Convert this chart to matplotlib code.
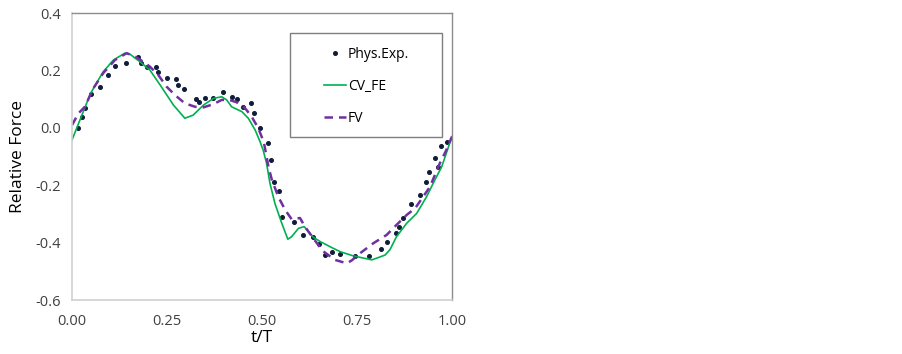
import matplotlib
matplotlib.use("Agg")
import matplotlib.pyplot as plt
from matplotlib.patches import Rectangle

# Phys.Exp. measured points
exp_t = [0.017, 0.026, 0.034, 0.049, 0.074, 0.096, 0.112, 0.142, 0.174, 0.182,
         0.197, 0.220, 0.227, 0.249, 0.273, 0.280, 0.295, 0.326, 0.335, 0.350,
         0.372, 0.397, 0.420, 0.433, 0.449, 0.472, 0.479, 0.494, 0.517, 0.525,
         0.532, 0.546, 0.553, 0.583, 0.607, 0.635, 0.651, 0.666, 0.683, 0.705,
         0.745, 0.782, 0.813, 0.830, 0.852, 0.861, 0.870, 0.893, 0.916, 0.931,
         0.939, 0.955, 0.963, 0.970, 0.987]
exp_f = [0.000, 0.038, 0.069, 0.119, 0.144, 0.185, 0.216, 0.226, 0.246, 0.226,
         0.211, 0.211, 0.194, 0.174, 0.171, 0.150, 0.135, 0.100, 0.090, 0.105,
         0.105, 0.124, 0.109, 0.101, 0.074, 0.086, 0.051, -0.001, -0.051, -0.111,
         -0.188, -0.219, -0.309, -0.329, -0.373, -0.380, -0.405, -0.443, -0.434, -0.440,
         -0.445, -0.445, -0.422, -0.397, -0.367, -0.346, -0.313, -0.266, -0.235, -0.189,
         -0.155, -0.104, -0.135, -0.062, -0.049]

# CV_FE solution
cvfe_t = [0.000, 0.021, 0.049, 0.082, 0.109, 0.139, 0.153, 0.179, 0.205, 0.232,
          0.267, 0.297, 0.319, 0.346, 0.372, 0.394, 0.407, 0.420, 0.447, 0.464,
          0.482, 0.495, 0.503, 0.512, 0.521, 0.534, 0.552, 0.568, 0.578, 0.596,
          0.611, 0.626, 0.635, 0.653, 0.679, 0.705, 0.740, 0.789, 0.806, 0.824,
          0.837, 0.854, 0.881, 0.907, 0.933, 0.955, 0.973, 0.982, 1.000]
cvfe_f = [-0.042, 0.028, 0.121, 0.196, 0.237, 0.261, 0.257, 0.231, 0.202, 0.150,
          0.080, 0.034, 0.045, 0.080, 0.103, 0.109, 0.098, 0.074, 0.057, 0.034,
          -0.007, -0.048, -0.077, -0.123, -0.193, -0.263, -0.332, -0.388, -0.379, -0.350,
          -0.344, -0.367, -0.381, -0.396, -0.414, -0.431, -0.446, -0.460, -0.452, -0.443,
          -0.424, -0.379, -0.332, -0.298, -0.240, -0.181, -0.135, -0.100, -0.030]

# FV solution
fv_t = [0.000, 0.017, 0.034, 0.056, 0.082, 0.113, 0.144, 0.166, 0.188, 0.205,
        0.227, 0.249, 0.271, 0.297, 0.324, 0.346, 0.372, 0.394, 0.416, 0.433,
        0.455, 0.473, 0.490, 0.505, 0.517, 0.526, 0.543, 0.561, 0.578, 0.600,
        0.613, 0.635, 0.661, 0.692, 0.723, 0.736, 0.758, 0.793, 0.828, 0.854,
        0.881, 0.903, 0.924, 0.942, 0.968, 0.984, 1.000]
fv_f = [0.010, 0.051, 0.074, 0.138, 0.191, 0.237, 0.261, 0.249, 0.231, 0.214,
        0.185, 0.144, 0.115, 0.086, 0.074, 0.072, 0.083, 0.098, 0.097, 0.090,
        0.070, 0.039, 0.000, -0.050, -0.135, -0.181, -0.240, -0.286, -0.318, -0.314,
        -0.344, -0.385, -0.430, -0.460, -0.472, -0.462, -0.437, -0.402, -0.373, -0.338,
        -0.303, -0.280, -0.240, -0.205, -0.123, -0.080, -0.030]

x_ticks = [0.0, 0.25, 0.5, 0.75, 1.0]
y_ticks = [-0.6, -0.4, -0.2, 0.0, 0.2, 0.4]

plt.rcParams["font.family"] = ["Open Sans", "DejaVu Sans"]

fig = plt.figure(figsize=(9.02, 3.54), dpi=100)
ax = fig.add_axes([0.0798, 0.1525, 0.4213, 0.8099])

ax.plot(exp_t, exp_f, linestyle="none", marker="o", markersize=2.6,
        color="#0f1d3a", label="Phys.Exp.")
ax.plot(cvfe_t, cvfe_f, color="#00b050", linewidth=1.2, label="CV_FE")
ax.plot(fv_t, fv_f, color="#7030a0", linewidth=1.8, dashes=(3.4, 2.4),
        label="FV")

ax.set_xlim(0, 1)
ax.set_ylim(-0.6, 0.4)
ax.set_xticks(x_ticks)
ax.set_xticklabels([f"{v:.2f}" for v in x_ticks])
ax.set_yticks(y_ticks)
ax.set_yticklabels([f"{v:.1f}" for v in y_ticks])
ax.tick_params(length=0, labelsize=10.5, colors="#404040")
ax.tick_params(axis="x", pad=10)
ax.tick_params(axis="y", pad=8)

for side in ["left", "bottom"]:
    ax.spines[side].set_color("#d0d0d0")
    ax.spines[side].set_linewidth(1.2)
for side in ["top", "right"]:
    ax.spines[side].set_color("#8c8c8c")
    ax.spines[side].set_linewidth(1.0)

ax.set_xlabel("t/T", fontsize=12.5, labelpad=1)
ax.set_ylabel("Relative Force", fontsize=12.5, labelpad=7)

# legend box drawn separately (Excel style: wide box, entries inset)
ax.add_patch(Rectangle((0.574, 0.570), 0.400, 0.360, transform=ax.transAxes,
                       fill=True, facecolor="white", edgecolor="#7f7f7f",
                       linewidth=1.0, zorder=4))
leg = ax.legend(loc="upper left", bbox_to_anchor=(0.662, 0.884), fontsize=10,
                frameon=False, borderpad=0, labelspacing=1.25,
                handlelength=1.6, handletextpad=0.15, borderaxespad=0)
leg.set_zorder(5)

fig.savefig("out.png", dpi=100)
